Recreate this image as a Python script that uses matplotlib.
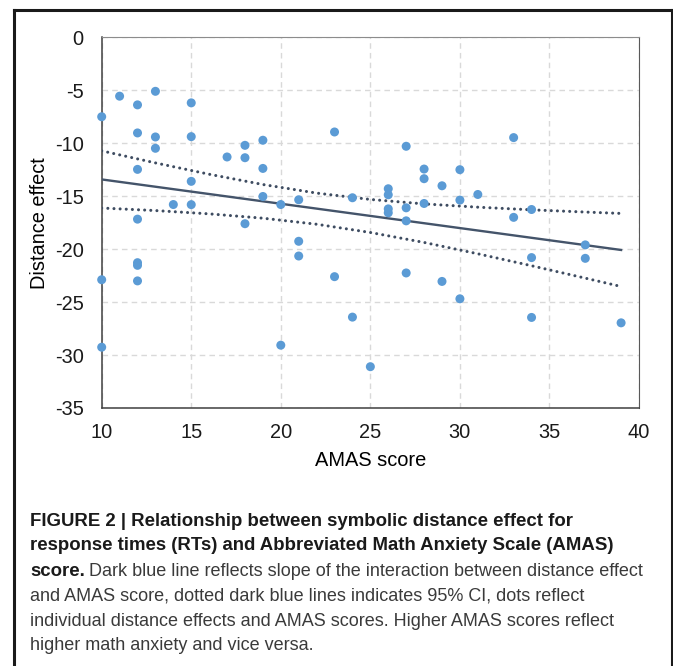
import matplotlib
matplotlib.use("Agg")
import matplotlib.pyplot as plt
from matplotlib.lines import Line2D

# AMAS score and symbolic distance effect per participant
amas = [10, 11, 12, 13, 15, 12, 13, 15, 13, 12, 15, 14, 15, 12, 17, 18, 18, 19, 19, 19,
        20, 21, 18, 23, 27, 33, 28, 28, 30, 29, 31, 26, 26, 24, 30, 28, 27, 26, 26, 34,
        33, 27, 21, 21, 12, 12, 10, 12, 23, 20, 10, 37, 37, 34, 27, 29, 30, 24, 34, 39, 25]
dist_effect = [-7.5, -5.56, -6.38, -5.1, -6.19, -9.03, -9.41, -9.38, -10.48, -12.47,
               -13.6, -15.79, -15.8, -17.17, -11.3, -10.2, -11.37, -9.72, -12.38, -15.03,
               -15.79, -15.34, -17.6, -8.94, -10.29, -9.47, -12.44, -13.35, -12.5, -14.02,
               -14.84, -14.3, -14.87, -15.15, -15.37, -15.69, -16.1, -16.2, -16.57, -16.26,
               -17.0, -17.33, -19.26, -20.65, -21.28, -21.53, -22.89, -23.0, -22.6, -29.07,
               -29.26, -19.6, -20.87, -20.8, -22.25, -23.05, -24.69, -26.42, -26.45, -26.96,
               -31.1]

# fitted slope and 95% CI band
fit_x = [10, 39]
fit_y = [-13.42, -20.08]
ci_x = [10, 13, 16, 19, 22, 25, 28, 31, 34, 37, 39]
ci_upper = [-10.72, -11.86, -12.93, -13.90, -14.71, -15.31, -15.73, -16.04, -16.29, -16.50, -16.63]
ci_lower = [-16.12, -16.36, -16.67, -17.08, -17.65, -18.43, -19.37, -20.44, -21.57, -22.74, -23.53]

x_ticks = [10, 15, 20, 25, 30, 35, 40]
y_ticks = [0, -5, -10, -15, -20, -25, -30, -35]

plt.rcParams['font.family'] = ['Liberation Sans', 'DejaVu Sans']
plt.rcParams['axes.unicode_minus'] = False

fig = plt.figure(figsize=(6.73, 6.66), dpi=100)
ax = fig.add_axes([0.1511, 0.3874, 0.7984, 0.5566])

navy = '#44546a'
ax.plot(fit_x, fit_y, color=navy, lw=1.7, zorder=3)
for ci in (ci_upper, ci_lower):
    ax.plot(ci_x, ci, color='#3e4c61', lw=2.2, linestyle=(0, (0.01, 2.0)),
            dash_capstyle='round', zorder=3)
ax.scatter(amas, dist_effect, s=42, color='#5b9bd5', edgecolors='none', zorder=4, clip_on=False)

ax.set_xlim(10, 40)
ax.set_ylim(-35, 0)
ax.set_xticks(x_ticks)
ax.set_yticks(y_ticks)
ax.tick_params(length=0, labelsize=14.4, colors='#1a1a1a')
ax.tick_params(axis='x', pad=11)
ax.tick_params(axis='y', pad=13)
ax.grid(True, color='#d9d9d9', linestyle=(0, (4, 3)), lw=1)
ax.set_axisbelow(True)
for side in ['left', 'bottom']:
    ax.spines[side].set_color('#404040')
    ax.spines[side].set_linewidth(1.1)
ax.spines['top'].set_color('#8c8c8c')
ax.spines['right'].set_color('#595959')

ax.set_xlabel('AMAS score', fontsize=14.4, labelpad=6)
ax.set_ylabel('Distance effect', fontsize=14.4, labelpad=4)

# outer frame around the figure panel
frame_kw = dict(color='#1a1a1a', lw=2.2, transform=fig.transFigure)
fig.add_artist(Line2D([13.5 / 673, 13.5 / 673], [0, 1 - 10 / 666], **frame_kw))
fig.add_artist(Line2D([13.5 / 673, 671.5 / 673], [1 - 10 / 666, 1 - 10 / 666], **frame_kw))
fig.add_artist(Line2D([671.5 / 673, 671.5 / 673], [0, 1 - 10 / 666], **frame_kw))

# caption
cap_x = 30 / 673
bold_size = 13.4
norm_size = 13.0
line_y = [521, 546, 571, 596, 621, 646]
bold_c = '#1a1a1a'
norm_c = '#3a3a3a'
fig.text(cap_x, 1 - line_y[0] / 666, 'FIGURE 2 | Relationship between symbolic distance effect for',
         fontsize=bold_size, fontweight='bold', color=bold_c, va='center')
fig.text(cap_x, 1 - line_y[1] / 666, 'response times (RTs) and Abbreviated Math Anxiety Scale (AMAS)',
         fontsize=bold_size, fontweight='bold', color=bold_c, va='center')
t_score = fig.text(cap_x, 1 - line_y[2] / 666, 'score.', fontsize=bold_size, fontweight='bold',
                   color=bold_c, va='center')
renderer = fig.canvas.get_renderer()
bb = t_score.get_window_extent(renderer=renderer)
fig.text(bb.x1 / fig.bbox.width + 4 / 673, 1 - line_y[2] / 666,
         'Dark blue line reflects slope of the interaction between distance effect',
         fontsize=norm_size, color=norm_c, va='center')
fig.text(cap_x, 1 - line_y[3] / 666,
         'and AMAS score, dotted dark blue lines indicates 95% CI, dots reflect',
         fontsize=norm_size, color=norm_c, va='center')
fig.text(cap_x, 1 - line_y[4] / 666,
         'individual distance effects and AMAS scores. Higher AMAS scores reflect',
         fontsize=norm_size, color=norm_c, va='center')
fig.text(cap_x, 1 - line_y[5] / 666, 'higher math anxiety and vice versa.',
         fontsize=norm_size, color=norm_c, va='center')

fig.savefig('out.png', dpi=100)
